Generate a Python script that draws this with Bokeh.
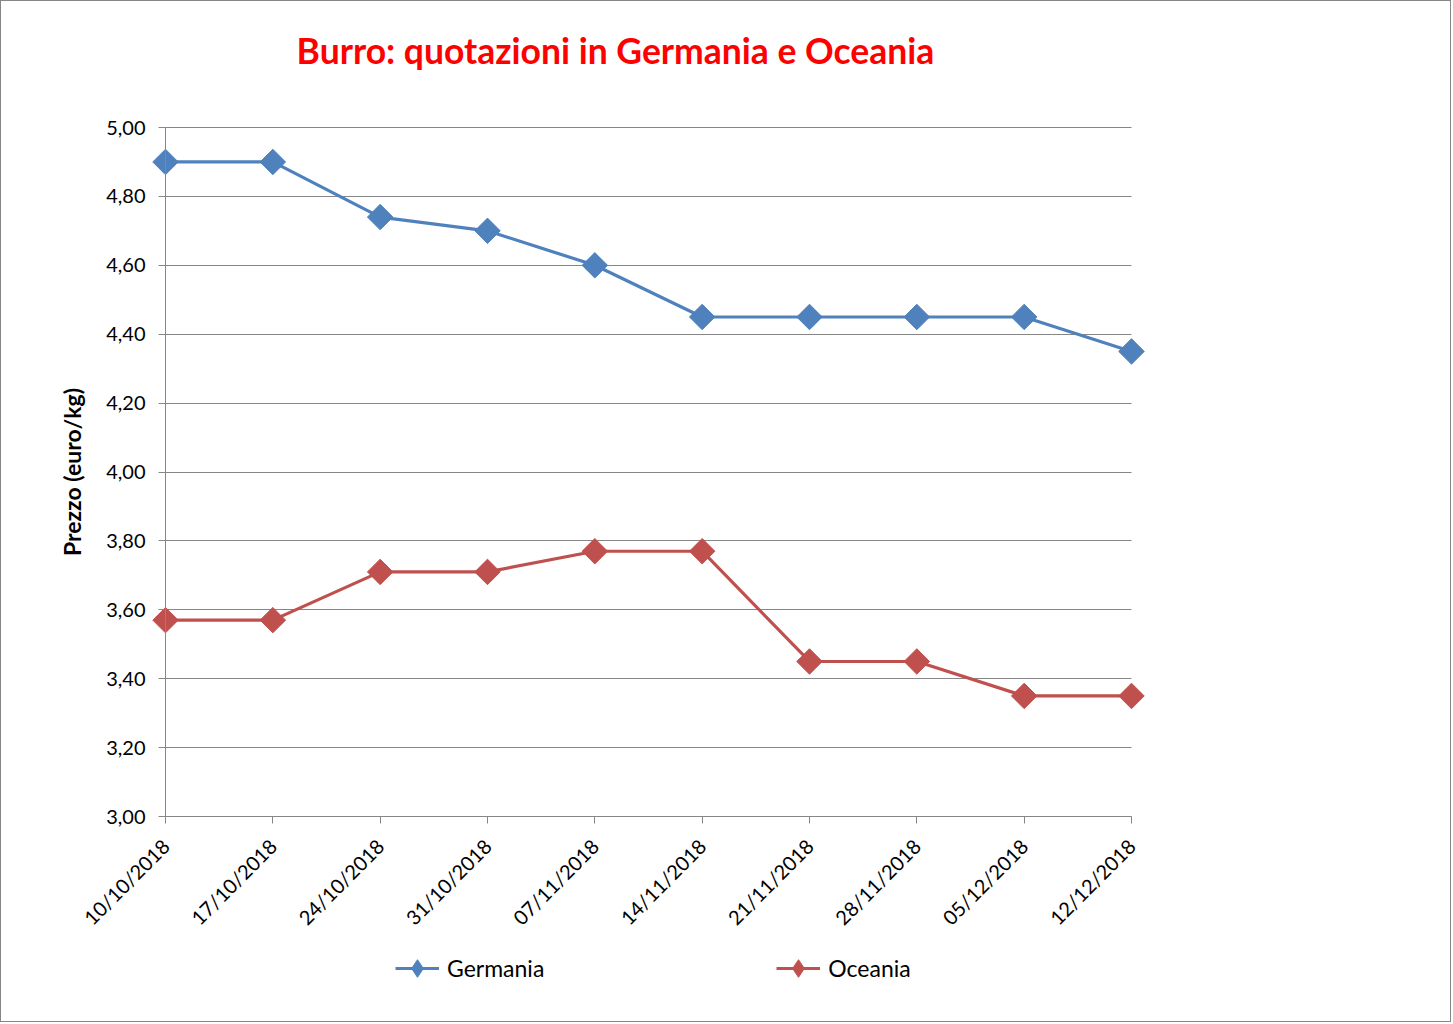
import math
from bokeh.plotting import figure
from bokeh.models import (Range1d, FixedTicker, CustomJSTickFormatter, Label,
                          Legend, LegendItem, ColumnDataSource)
from bokeh.core.properties import value
from bokeh.embed import file_html
from bokeh.resources import INLINE

dates = ["10/10/2018", "17/10/2018", "24/10/2018", "31/10/2018", "07/11/2018",
         "14/11/2018", "21/11/2018", "28/11/2018", "05/12/2018", "12/12/2018"]
germania = [4.90, 4.90, 4.74, 4.70, 4.60, 4.45, 4.45, 4.45, 4.45, 4.35]
oceania = [3.57, 3.57, 3.71, 3.71, 3.77, 3.77, 3.45, 3.45, 3.35, 3.35]
y_ticks = [3.0, 3.2, 3.4, 3.6, 3.8, 4.0, 4.2, 4.4, 4.6, 4.8, 5.0]
y_tick_labels = ["3,00", "3,20", "3,40", "3,60", "3,80", "4,00",
                 "4,20", "4,40", "4,60", "4,80", "5,00"]

title_text = "Burro: quotazioni in Germania e Oceania"
y_label = "Prezzo (euro/kg)"

FONT = "Lato"
BLUE = "#4F81BD"
RED = "#C0504D"
GREY = "#868686"

idx = list(range(len(dates)))
n = len(dates) - 1
y0, y1 = y_ticks[0], y_ticks[-1]

# layout in canvas pixels: categories span 164..1130, values y0..y1 span 815..126
W, H = 1451, 1022
CX0, CX1, CY0, CY1 = 164, 1130, 815, 126
PX = (CX1 - CX0) / n
PY = (CY0 - CY1) / (y1 - y0)
FL, FR, FT, FB = 30, W - 30, 20, H - 40   # frame edges


def dx(px):
    return (px - CX0) / PX


def dy(py):
    return y0 + (CY0 - py) / PY


p = figure(width=W, height=H, output_backend="svg", toolbar_location=None,
           title=None,
           x_range=Range1d(dx(FL), dx(FR)), y_range=Range1d(dy(FB), dy(FT)),
           min_border_left=FL, min_border_right=W - FR,
           min_border_top=FT, min_border_bottom=H - FB)
p.styles = {"border": "1px solid #868686"}
p.outline_line_color = None
p.background_fill_color = "white"
p.border_fill_color = "white"

# grids
p.xgrid.grid_line_color = None
p.ygrid.grid_line_color = GREY
p.ygrid.grid_line_width = 1
p.ygrid.ticker = FixedTicker(ticks=y_ticks)
p.ygrid.cross_bounds = (0, n)

# y axis at first category
p.yaxis.fixed_location = 0
p.yaxis.bounds = (y0, y1)
p.yaxis.ticker = FixedTicker(ticks=y_ticks)
p.yaxis.formatter = CustomJSTickFormatter(code="return '';")
p.yaxis.axis_line_color = GREY
p.yaxis.major_tick_line_color = GREY
p.yaxis.major_tick_out = 7
p.yaxis.major_tick_in = 0
p.yaxis.minor_tick_line_color = None
p.yaxis.major_label_standoff = 0
p.yaxis.major_label_text_font_size = "0px"

# x axis at lowest value
p.xaxis.fixed_location = y0
p.xaxis.bounds = (0, n)
p.xaxis.ticker = FixedTicker(ticks=idx)
p.xaxis.formatter = CustomJSTickFormatter(code="return '';")
p.xaxis.axis_line_color = GREY
p.xaxis.major_tick_line_color = GREY
p.xaxis.major_tick_out = 7
p.xaxis.major_tick_in = 0
p.xaxis.minor_tick_line_color = None
p.xaxis.major_label_standoff = 0
p.xaxis.major_label_text_font_size = "0px"

# tick labels
p.text(x=[0] * len(y_ticks), y=y_ticks, text=y_tick_labels, x_offset=-20,
       text_align="right", text_baseline="middle", text_font=value(FONT),
       text_font_size="20px", text_color="black")
p.text(x=idx, y=[y0] * len(idx), text=dates, angle=math.pi / 4,
       x_offset=0, y_offset=26, text_align="right", text_baseline="middle",
       text_font=value(FONT), text_font_size="20px", text_color="black")

# axis title
p.text(x=[dx(70)], y=[(y0 + y1) / 2], text=[y_label], angle=math.pi / 2,
       text_align="center", text_baseline="middle", text_font=value(FONT),
       text_font_size="23px", text_font_style="bold", text_color="black")

src = ColumnDataSource(dict(x=idx, g=germania, o=oceania))

lg = p.line("x", "g", source=src, line_color=BLUE, line_width=3.2)
dg = p.scatter("x", "g", source=src, marker="diamond", size=16,
               fill_color=BLUE, line_color=BLUE)
mg = p.scatter("x", "g", source=src, marker="square", angle=math.pi / 4, size=18,
               fill_color=BLUE, line_color=BLUE)
lo = p.line("x", "o", source=src, line_color=RED, line_width=3.2)
do = p.scatter("x", "o", source=src, marker="diamond", size=16,
               fill_color=RED, line_color=RED)
mo = p.scatter("x", "o", source=src, marker="square", angle=math.pi / 4, size=18,
               fill_color=RED, line_color=RED)

legend = Legend(items=[LegendItem(label="Germania", renderers=[lg, dg]),
                       LegendItem(label="Oceania", renderers=[lo, do])],
                orientation="horizontal", location=(394 - FL, FB - 945 - 44),
                glyph_width=44, glyph_height=44, label_standoff=8,
                spacing=232, padding=0, margin=0,
                border_line_color=None, background_fill_alpha=0,
                label_text_font=FONT, label_text_font_size="23px",
                label_text_color="black")
p.add_layout(legend, "center")

title = Label(x=dx(614), y=dy(49), text=title_text, text_align="center",
              text_baseline="alphabetic", text_font=FONT, text_font_size="35.5px",
              text_font_style="bold", text_color="#FF0000")
p.add_layout(title)

open("out.html", "w").write(file_html(p, INLINE))
